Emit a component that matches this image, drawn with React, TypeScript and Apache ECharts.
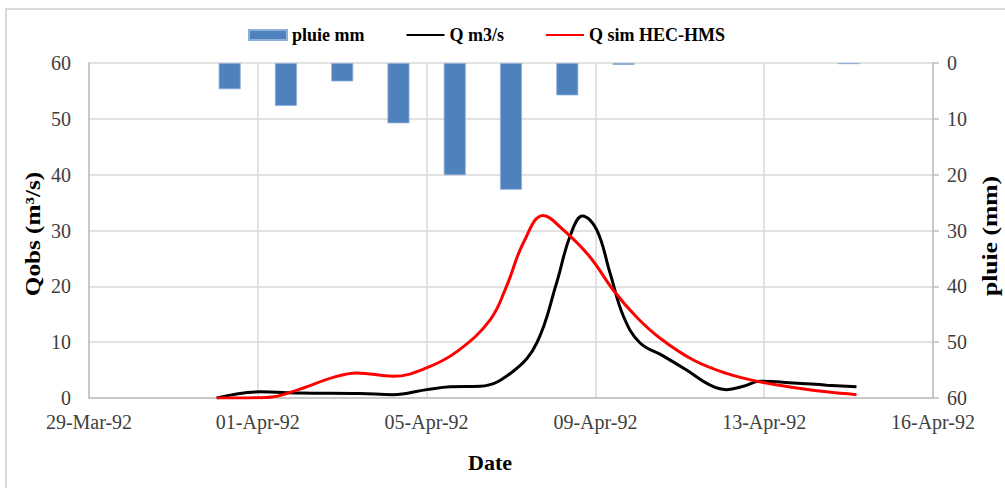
import React, { useEffect, useRef } from "react";
import * as echarts from "echarts";

// x positions are in days counted from 29-Mar-92 on the drawn axis (tick every 3 units)
const xTickLabels = ["29-Mar-92", "01-Apr-92", "05-Apr-92", "09-Apr-92", "13-Apr-92", "16-Apr-92"];

const rainDays = [2.5, 3.5, 4.5, 5.5, 6.5, 7.5, 8.5, 9.5, 13.5];
const rainMm = [4.7, 7.7, 3.3, 10.8, 20.1, 22.7, 5.8, 0.35, 0.2];

const qObsDays = [2.27, 3.04, 3.75, 4.82, 5.4, 6.0, 6.42, 6.95, 7.54, 7.96, 8.31, 8.55, 8.77, 9.02, 9.26, 9.5, 9.79, 10.21, 10.62, 11.04, 11.33, 11.63, 11.92, 12.52, 13.11, 13.64];
const qObsValues = [0, 1.1, 0.9, 0.8, 0.6, 1.5, 2.0, 2.1, 4.8, 9.9, 20.6, 29, 32.6, 30.2, 22.4, 14.6, 9.9, 7.5, 5.0, 2.3, 1.5, 2.1, 3.0, 2.7, 2.3, 2.0];

const qSimDays = [2.27, 3.16, 3.75, 4.34, 4.76, 5.41, 6.0, 6.55, 7.13, 7.42, 7.72, 8.07, 8.43, 8.9, 9.32, 9.73, 10.15, 10.74, 11.33, 11.92, 12.52, 13.11, 13.64];
const qSimValues = [0, 0.1, 1.6, 3.7, 4.5, 3.9, 5.4, 8.4, 14, 20, 27.8, 32.7, 30.1, 25.3, 19.3, 14.5, 10.7, 6.8, 4.4, 2.9, 1.9, 1.1, 0.6];

const yLeftTitle = "Qobs (m³/s)";
const yRightTitle = "pluie (mm)";
const xTitle = "Date";

const FONT = "'Liberation Serif', 'Times New Roman', serif";

export default function App() {
  const ref = useRef<HTMLDivElement>(null);
  useEffect(() => {
    if (!ref.current) return;
    const chart = echarts.init(ref.current, undefined, { renderer: "svg" });
    const rain = rainDays.map((d, i) => [d, rainMm[i]]);
    const obs = qObsDays.map((d, i) => [d, qObsValues[i]]);
    const sim = qSimDays.map((d, i) => [d, qSimValues[i]]);
    const titleStyle = {
      font: `bold 21px ${FONT}`,
      fill: "#000",
      textAlign: "center",
      textVerticalAlign: "middle",
    };
    chart.setOption({
      animation: false,
      backgroundColor: "#ffffff",
      textStyle: { fontFamily: FONT },
      graphic: [
        {
          type: "rect",
          shape: { x: 6, y: 9, width: 1200, height: 700 },
          style: { fill: "none", stroke: "#d9d9d9", lineWidth: 2 },
          silent: true,
        },
        {
          type: "text",
          x: 33,
          y: 234,
          rotation: Math.PI / 2,
          scaleX: 1.2,
          style: { ...titleStyle, text: yLeftTitle },
          silent: true,
        },
        {
          type: "text",
          x: 990,
          y: 236,
          rotation: Math.PI / 2,
          scaleX: 1.22,
          style: { ...titleStyle, text: yRightTitle },
          silent: true,
        },
        {
          type: "text",
          x: 490,
          y: 462,
          style: { ...titleStyle, font: `bold 22px ${FONT}`, text: xTitle },
          silent: true,
        },
      ],
      legend: {
        left: 248,
        top: 24,
        padding: 0,
        itemGap: 41,
        itemWidth: 38,
        itemHeight: 10,
        textStyle: { fontFamily: FONT, fontSize: 18, fontWeight: "bold", color: "#000", lineHeight: 22 },
        data: [
          { name: "pluie mm", icon: "rect" },
          { name: "Q m3/s", itemStyle: { opacity: 0, borderWidth: 0 } },
          { name: "Q sim HEC-HMS", itemStyle: { opacity: 0, borderWidth: 0 } },
        ],
      },
      grid: { left: 89, right: 72, top: 63, bottom: 90, containLabel: false },
      xAxis: {
        type: "value",
        min: 0,
        max: 15,
        interval: 3,
        axisLine: { show: true, lineStyle: { color: "#bfbfbf", width: 1.5 } },
        axisTick: { show: false },
        axisLabel: {
          fontFamily: FONT,
          fontSize: 20,
          color: "#404040",
          margin: 14,
          formatter: (v: number) => xTickLabels[Math.round(v / 3)] ?? "",
        },
        splitLine: { show: true, lineStyle: { color: "#d9d9d9", width: 1.5 } },
      },
      yAxis: [
        {
          type: "value",
          min: 0,
          max: 60,
          interval: 10,
          axisLine: { show: true, lineStyle: { color: "#bfbfbf", width: 1.5 } },
          axisTick: { show: false },
          axisLabel: { fontFamily: FONT, fontSize: 20, color: "#404040", margin: 18 },
          splitLine: { show: true, lineStyle: { color: "#d9d9d9", width: 1.5 } },
        },
        {
          type: "value",
          min: 0,
          max: 60,
          interval: 10,
          inverse: true,
          position: "right",
          axisLine: { show: true, lineStyle: { color: "#bfbfbf", width: 1.5 } },
          axisTick: { show: true, length: 6, inside: false, lineStyle: { color: "#bfbfbf", width: 1.5 } },
          axisLabel: { fontFamily: FONT, fontSize: 20, color: "#404040", margin: 14 },
          splitLine: { show: false },
        },
      ],
      series: [
        {
          name: "pluie mm",
          type: "bar",
          yAxisIndex: 1,
          barWidth: 22,
          data: rain,
          itemStyle: { color: "#4f81bd", borderColor: "#8fb0da", borderWidth: 0.8 },
        },
        {
          name: "Q m3/s",
          type: "line",
          yAxisIndex: 0,
          data: obs,
          smooth: 0.4,
          symbol: "none",
          lineStyle: { color: "#000000", width: 3 },
          itemStyle: { color: "#000000" },
        },
        {
          name: "Q sim HEC-HMS",
          type: "line",
          yAxisIndex: 0,
          data: sim,
          smooth: 0.4,
          symbol: "none",
          lineStyle: { color: "#ff0000", width: 3 },
          itemStyle: { color: "#ff0000" },
        },
      ],
    });
    return () => chart.dispose();
  }, []);
  return (
    <div
      ref={ref}
      style={{ position: "fixed", left: 0, top: 0, width: 1005, height: 488, background: "#fff" }}
    />
  );
}
